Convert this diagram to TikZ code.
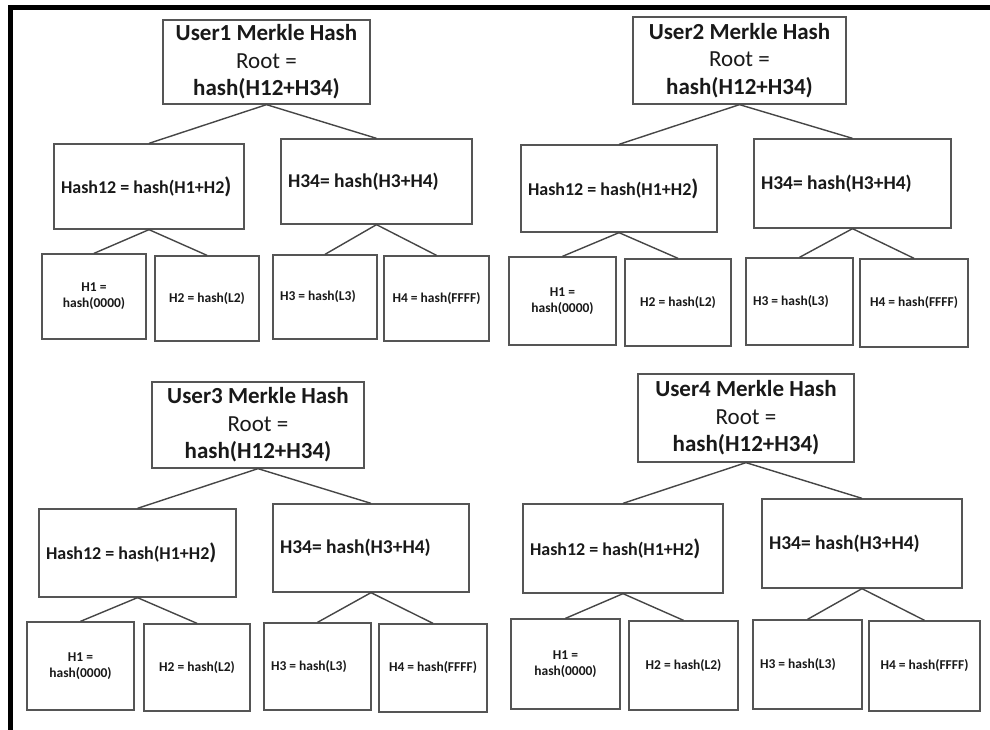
\documentclass[tikz,border=0pt]{standalone}
\usepackage{fontspec}
\setmainfont{Carlito}
\definecolor{boxline}{RGB}{85,85,85}
\definecolor{linkline}{RGB}{70,70,70}
\definecolor{ink}{RGB}{25,25,25}
% oversized closing parenthesis used in the Hash12 boxes
\newcommand\closebig{{\fontsize{22.5}{22.5}\selectfont)}}
\begin{document}
\begin{tikzpicture}[x=1pt,y=-1pt,
  box/.style={draw=boxline, line width=1.3pt, fill=white, inner sep=0pt, text=ink},
  rootbox/.style={box, align=center, font=\fontsize{23}{27.5}\selectfont},
  midbox/.style={box, inner xsep=7pt, font=\bfseries\fontsize{18}{21}\selectfont},
  hbox/.style={box, inner xsep=7pt, font=\bfseries\fontsize{19.5}{23}\selectfont},
  leaf/.style={box, align=center, font=\bfseries\fontsize{13.5}{16}\selectfont},
  leafl/.style={box, inner xsep=7pt, font=\bfseries\fontsize{13.5}{16}\selectfont},
  link/.style={draw=linkline, line width=1.4pt},
  frame/.style={line width=5pt, draw=black}]
\useasboundingbox (0,0) rectangle (990,730);
\fill[white] (0,0) rectangle (990,730);

% outer frame (left and top edges)
\coordinate (fbot) at (10,740);
\coordinate (fcorner) at (10,8);
\coordinate (fright) at (1000,8);
\draw[frame] (fbot) -- (fcorner) -- (fright);

% ---------- User1 ----------
\node[rootbox, minimum width=207pt, minimum height=84pt] (u1root) at (266.5,62)
  {{\bfseries User1 Merkle Hash}\\Root =\\{\bfseries hash(H12+H34)}};
\node[midbox, minimum height=85pt] (u1h12) at (149,186.5) {\makebox[176pt][l]{Hash12 = hash(H1+H2\closebig}};
\node[hbox, minimum height=85pt] (u1h34) at (376.5,181.5) {\makebox[177pt][l]{H34= hash(H3+H4)}};
\node[leaf, minimum width=104pt, minimum height=85pt] (u1l1) at (94,296.5) {H1 =\\hash(0000)};
\node[leaf, minimum width=104pt, minimum height=85pt] (u1l2) at (207,298.5) {H2 = hash(L2)};
\node[leafl, minimum height=84pt] (u1l3) at (325,297) {\makebox[90pt][l]{H3 = hash(L3)}};
\node[leaf, minimum width=105pt, minimum height=85pt] (u1l4) at (436.5,298.5) {H4 = hash(FFFF)};

% ---------- User2 ----------
\node[rootbox, minimum width=213pt, minimum height=87pt] (u2root) at (739.5,60.5)
  {{\bfseries User2 Merkle Hash}\\Root =\\{\bfseries hash(H12+H34)}};
\node[midbox, minimum height=87pt] (u2h12) at (619,188.5) {\makebox[182pt][l]{Hash12 = hash(H1+H2\closebig}};
\node[hbox, minimum height=89pt] (u2h34) at (852.5,183.5) {\makebox[183pt][l]{H34= hash(H3+H4)}};
\node[leaf, minimum width=107pt, minimum height=88pt] (u2l1) at (562.5,301) {H1 =\\hash(0000)};
\node[leaf, minimum width=106pt, minimum height=87pt] (u2l2) at (678,302.5) {H2 = hash(L2)};
\node[leafl, minimum height=87pt] (u2l3) at (799.5,301.5) {\makebox[93pt][l]{H3 = hash(L3)}};
\node[leaf, minimum width=108pt, minimum height=88pt] (u2l4) at (914,303) {H4 = hash(FFFF)};

% ---------- User3 ----------
\node[rootbox, minimum width=212pt, minimum height=86pt] (u3root) at (258,425)
  {{\bfseries User3 Merkle Hash}\\Root =\\{\bfseries hash(H12+H34)}};
\node[midbox, minimum height=88pt] (u3h12) at (137.5,553) {\makebox[183pt][l]{Hash12 = hash(H1+H2\closebig}};
\node[hbox, minimum height=88pt] (u3h34) at (371,548) {\makebox[182pt][l]{H34= hash(H3+H4)}};
\node[leaf, minimum width=107pt, minimum height=88pt] (u3l1) at (80.5,666) {H1 =\\hash(0000)};
\node[leaf, minimum width=106pt, minimum height=87pt] (u3l2) at (197,667.5) {H2 = hash(L2)};
\node[leafl, minimum height=87pt] (u3l3) at (317.5,666.5) {\makebox[93pt][l]{H3 = hash(L3)}};
\node[leaf, minimum width=108pt, minimum height=88pt] (u3l4) at (433,668) {H4 = hash(FFFF)};

% ---------- User4 ----------
\node[rootbox, minimum width=216pt, minimum height=88pt] (u4root) at (746,418)
  {{\bfseries User4 Merkle Hash}\\Root =\\{\bfseries hash(H12+H34)}};
\node[midbox, minimum height=89pt] (u4h12) at (623,548.5) {\makebox[186pt][l]{Hash12 = hash(H1+H2\closebig}};
\node[hbox, minimum height=89pt] (u4h34) at (862,543.5) {\makebox[186pt][l]{H34= hash(H3+H4)}};
\node[leaf, minimum width=109pt, minimum height=90pt] (u4l1) at (565.5,664) {H1 =\\hash(0000)};
\node[leaf, minimum width=109pt, minimum height=89pt] (u4l2) at (683.5,665.5) {H2 = hash(L2)};
\node[leafl, minimum height=89pt] (u4l3) at (807.5,664.5) {\makebox[95pt][l]{H3 = hash(L3)}};
\node[leaf, minimum width=111pt, minimum height=90pt] (u4l4) at (924.5,666) {H4 = hash(FFFF)};

% ---------- tree edges ----------
\foreach \u in {u1,u2,u3,u4}{
  \draw[link] (\u root.south) -- (\u h12.north);
  \draw[link] (\u root.south) -- (\u h34.north);
  \draw[link] (\u h12.south) -- (\u l1.north);
  \draw[link] (\u h12.south) -- (\u l2.north);
  \draw[link] (\u h34.south) -- (\u l3.north);
  \draw[link] (\u h34.south) -- (\u l4.north);
}
\end{tikzpicture}
\end{document}
